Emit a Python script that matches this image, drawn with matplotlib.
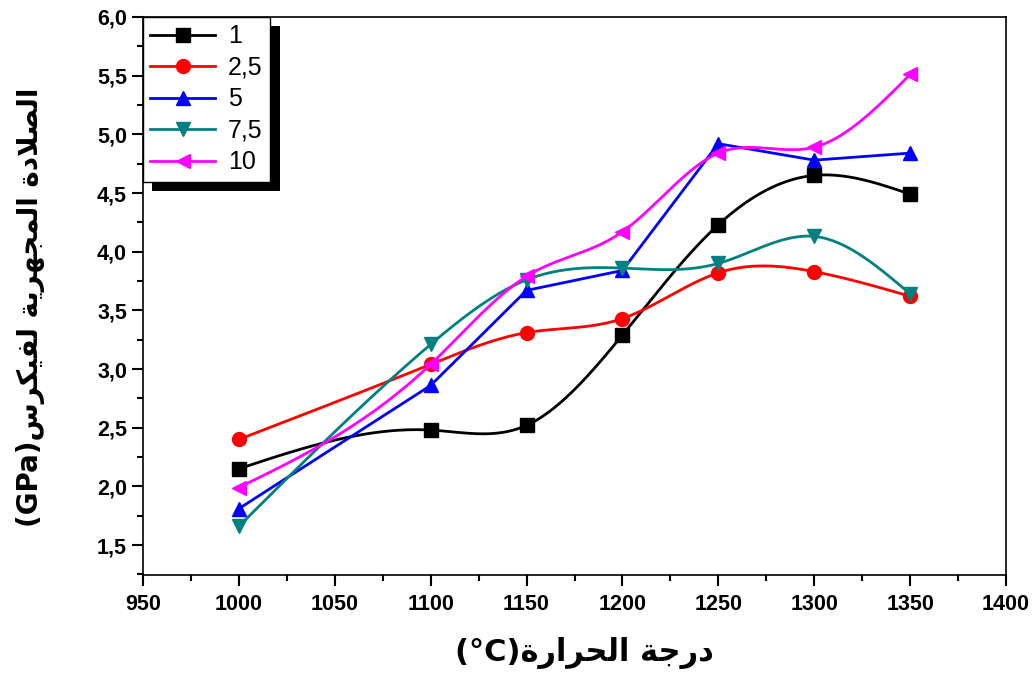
import numpy as np
import matplotlib
matplotlib.use('Agg')
import matplotlib.pyplot as plt
from matplotlib.ticker import MultipleLocator, FuncFormatter
from matplotlib.patches import Rectangle

temps = [1000, 1100, 1150, 1200, 1250, 1300, 1350]
s_1 = [2.15, 2.48, 2.52, 3.29, 4.23, 4.65, 4.49]
s_2_5 = [2.40, 3.04, 3.31, 3.43, 3.82, 3.83, 3.62]
s_5 = [1.81, 2.86, 3.67, 3.84, 4.92, 4.78, 4.84]
s_7_5 = [1.66, 3.21, 3.76, 3.86, 3.90, 4.13, 3.64]
s_10 = [1.99, 3.04, 3.79, 4.17, 4.84, 4.89, 5.51]
labels = ['1', '2,5', '5', '7,5', '10']

xlabel_ar = 'درجة الحرارة'
ylabel_ar = 'الصلادة المجهرية لفيكرس'

# arabic presentation forms: isolated, final, initial, medial
FORMS = {
	'ا': (0xFE8D, 0xFE8E),
	'ة': (0xFE93, 0xFE94),
	'ج': (0xFE9D, 0xFE9E, 0xFE9F, 0xFEA0),
	'ح': (0xFEA1, 0xFEA2, 0xFEA3, 0xFEA4),
	'د': (0xFEA9, 0xFEAA),
	'ر': (0xFEAD, 0xFEAE),
	'س': (0xFEB1, 0xFEB2, 0xFEB3, 0xFEB4),
	'ص': (0xFEB9, 0xFEBA, 0xFEBB, 0xFEBC),
	'ف': (0xFED1, 0xFED2, 0xFED3, 0xFED4),
	'ك': (0xFED9, 0xFEDA, 0xFEDB, 0xFEDC),
	'ل': (0xFEDD, 0xFEDE, 0xFEDF, 0xFEE0),
	'م': (0xFEE1, 0xFEE2, 0xFEE3, 0xFEE4),
	'ه': (0xFEE9, 0xFEEA, 0xFEEB, 0xFEEC),
	'ي': (0xFEF1, 0xFEF2, 0xFEF3, 0xFEF4),
	'LA': (0xFEFB, 0xFEFC),
}


def reshape(text):
	toks = []
	i = 0
	while i < len(text):
		if text[i] == 'ل' and i + 1 < len(text) and text[i + 1] == 'ا':
			toks.append('LA')
			i += 2
		else:
			toks.append(text[i])
			i += 1
	out = []
	for k, t in enumerate(toks):
		if t not in FORMS:
			out.append(t)
			continue
		prev = toks[k - 1] if k > 0 else None
		nxt = toks[k + 1] if k + 1 < len(toks) else None
		p = prev in FORMS and len(FORMS[prev]) == 4
		n = len(FORMS[t]) == 4 and nxt in FORMS
		f = FORMS[t]
		if p and n:
			c = f[3]
		elif p:
			c = f[1]
		elif n:
			c = f[2]
		else:
			c = f[0]
		out.append(chr(c))
	return ''.join(out)[::-1]


def spline(x, y, xs):
	x = np.asarray(x, float)
	y = np.asarray(y, float)
	n = len(x)
	h = np.diff(x)
	A = np.zeros((n, n))
	r = np.zeros(n)
	A[0, 0] = 1
	A[-1, -1] = 1
	for i in range(1, n - 1):
		A[i, i - 1] = h[i - 1]
		A[i, i] = 2 * (h[i - 1] + h[i])
		A[i, i + 1] = h[i]
		r[i] = 3 * ((y[i + 1] - y[i]) / h[i] - (y[i] - y[i - 1]) / h[i - 1])
	c = np.linalg.solve(A, r)
	b = (y[1:] - y[:-1]) / h - h * (2 * c[:-1] + c[1:]) / 3
	d = (c[1:] - c[:-1]) / (3 * h)
	idx = np.clip(np.searchsorted(x, xs) - 1, 0, n - 2)
	dx = xs - x[idx]
	return y[idx] + b[idx] * dx + c[idx] * dx ** 2 + d[idx] * dx ** 3


fig = plt.figure(figsize=(10.33, 6.79), dpi=100)
ax = fig.add_axes([0.1384, 0.1532, 0.8355, 0.8218])

xs = np.linspace(temps[0], temps[-1], 400)
series = [
	(s_1, 'black', 's', True),
	(s_2_5, '#ff0000', 'o', True),
	(s_5, '#0000ff', '^', False),
	(s_7_5, '#008080', 'v', True),
	(s_10, '#ff00ff', '<', True),
]
handles = []
for (vals, col, mk, smooth), lab in zip(series, labels):
	if smooth:
		ax.plot(xs, spline(temps, vals, xs), color=col, lw=2)
	else:
		ax.plot(temps, vals, color=col, lw=2)
	ax.plot(temps, vals, ls='none', marker=mk, color=col, ms=10)
	h, = ax.plot([], [], color=col, lw=2, marker=mk, ms=10)
	handles.append(h)

ax.set_xlim(950, 1400)
ax.set_ylim(1.245, 6.0)
ax.xaxis.set_major_locator(MultipleLocator(50))
ax.xaxis.set_minor_locator(MultipleLocator(25))
ax.yaxis.set_major_locator(MultipleLocator(0.5))
ax.yaxis.set_minor_locator(MultipleLocator(0.25))
ax.yaxis.set_major_formatter(FuncFormatter(lambda v, p: ('%.1f' % v).replace('.', ',')))
ax.tick_params(which='major', direction='out', length=8, width=1.5, labelsize=15.5)
ax.tick_params(axis='x', which='major', pad=6)
ax.tick_params(which='minor', direction='out', length=4, width=1.5)
for lb in ax.get_xticklabels() + ax.get_yticklabels():
	lb.set_fontweight('bold')
	lb.set_family('Liberation Sans')
for s in ax.spines.values():
	s.set_linewidth(1.2)

leg = ax.legend(handles, labels, loc='upper left', borderaxespad=0, fancybox=False,
	framealpha=1, edgecolor='black', prop={'family': 'Liberation Sans', 'size': 18},
	handlelength=2.6, handletextpad=0.5, labelspacing=0.3, borderpad=0.3)
leg.get_frame().set_linewidth(1.0)
leg.set_zorder(10)

fig.canvas.draw()
bb = leg.get_window_extent().transformed(ax.transAxes.inverted())
shadow = Rectangle((bb.x0 + 0.011, bb.y0 - 0.016), bb.width, bb.height, transform=ax.transAxes,
	facecolor='black', edgecolor='none', zorder=9, clip_on=False)
ax.add_patch(shadow)

fig.text(0.566, 0.027, '(°C)' + reshape(xlabel_ar), ha='center', va='baseline',
	fontsize=22, fontweight='bold', family=['DejaVu Sans'])
fig.text(0.03, 0.548, '(GPa)' + reshape(ylabel_ar), ha='center', va='center', rotation=90,
	fontsize=20, fontweight='bold', family=['DejaVu Sans'])

fig.savefig('out.png', dpi=100)
